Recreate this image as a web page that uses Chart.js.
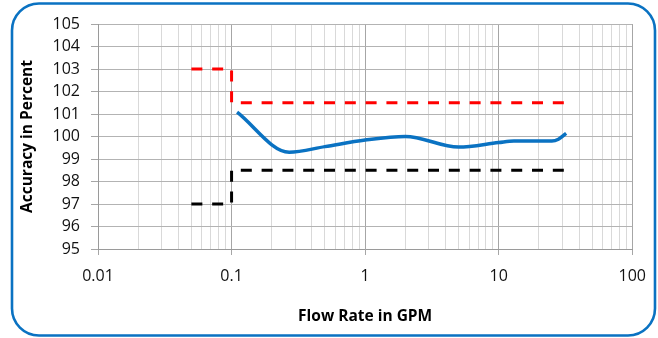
<!DOCTYPE html>
<html>
<head>
<meta charset="utf-8">
<script src="https://cdn.jsdelivr.net/npm/chart.js@4/dist/chart.umd.min.js"></script>
<style>
	html, body { margin: 0; padding: 0; background: #ffffff; }
	#wrap { width: 658px; height: 338px; position: relative; }
</style>
</head>
<body>
<div id="wrap"><canvas id="myChartAccuracy" width="658" height="338"></canvas></div>
<script>
// values
var flowRate = [0.11, 0.27, 0.5, 1, 2, 5, 10, 13, 25, 28, 32];
var accuracy = [101.08, 99.3, 99.55, 99.84, 100.0, 99.53, 99.73, 99.8, 99.8, 99.88, 100.14];

var upperLimitFlow = [0.05, 0.1, 0.1, 35];
var upperLimitValue = [103, 103, 101.5, 101.5];

var lowerLimitFlow = [0.05, 0.1, 0.1, 35];
var lowerLimitValue = [97, 97, 98.5, 98.5];

var xMajorTicks = [0.01, 0.1, 1, 10, 100];
var xMinorSteps = [2, 3, 4, 5, 6, 7, 8, 9];
var yTicks = [95, 96, 97, 98, 99, 100, 101, 102, 103, 104, 105];

function toPoints(xs, ys) {
	return xs.map(function (x, i) {
		return { x: x, y: ys[i] };
	});
}

function isMajorX(v) {
	return xMajorTicks.some(function (m) { return Math.abs(m - v) < m * 1e-6; });
}

function buildXTicks() {
	var ticks = [];
	xMajorTicks.forEach(function (m, i) {
		ticks.push({ value: m });
		if (i < xMajorTicks.length - 1) {
			xMinorSteps.forEach(function (s) {
				ticks.push({ value: +(m * s).toPrecision(6) });
			});
		}
	});
	return ticks;
}

// rounded blue frame around the whole picture
var framePlugin = {
	id: 'frame',
	afterDraw: function (chart) {
		var ctx = chart.ctx;
		ctx.save();
		ctx.strokeStyle = '#0a72c2';
		ctx.lineWidth = 2.6;
		ctx.beginPath();
		ctx.roundRect(12, 3.5, 643, 332, 27);
		ctx.stroke();
		ctx.restore();
	}
};

var fontFamily = "'Open Sans', 'Liberation Sans', sans-serif";

var ctx = document.getElementById('myChartAccuracy').getContext('2d');
new Chart(ctx, {
	type: 'line',
	data: {
		datasets: [{
			label: 'Accuracy',
			data: toPoints(flowRate, accuracy),
			borderColor: '#0a72c2',
			borderWidth: 3.5,
			pointRadius: 0,
			cubicInterpolationMode: 'monotone',
			fill: false,
			order: 1
		}, {
			label: 'Upper limit',
			data: toPoints(upperLimitFlow, upperLimitValue),
			borderColor: '#ff0000',
			borderWidth: 3,
			borderDash: [11, 9.8],
			pointRadius: 0,
			tension: 0,
			fill: false,
			order: 2
		}, {
			label: 'Lower limit',
			data: toPoints(lowerLimitFlow, lowerLimitValue),
			borderColor: '#000000',
			borderWidth: 3,
			borderDash: [11, 9.8],
			pointRadius: 0,
			tension: 0,
			fill: false,
			order: 3
		}]
	},
	options: {
		responsive: false,
		animation: false,
		layout: {
			padding: { left: 0, right: 25, top: 24, bottom: 0 }
		},
		plugins: {
			legend: { display: false },
			tooltip: { enabled: false }
		},
		scales: {
			x: {
				type: 'logarithmic',
				min: 0.01,
				max: 100,
				afterBuildTicks: function (scale) {
					scale.ticks = buildXTicks();
				},
				afterFit: function (scale) {
					scale.height = 338 - 249;
				},
				border: { color: '#9a9a9a', width: 1 },
				grid: {
					color: function (c) {
						return c.tick && isMajorX(c.tick.value) ? '#a6a6a6' : '#d9d9d9';
					},
					tickColor: function (c) {
						return c.tick && isMajorX(c.tick.value) ? '#a6a6a6' : 'rgba(0,0,0,0)';
					},
					drawTicks: true,
					tickLength: 6
				},
				ticks: {
					autoSkip: false,
					maxRotation: 0,
					padding: 12,
					color: '#111111',
					font: { family: fontFamily, size: 16 },
					callback: function (value) {
						return isMajorX(value) ? String(value) : '';
					}
				},
				title: {
					display: true,
					text: 'Flow Rate in GPM',
					color: '#000000',
					font: { family: fontFamily, size: 15.5, weight: 'bold' },
					padding: { top: 0, bottom: 12.5 }
				}
			},
			y: {
				type: 'linear',
				min: 95,
				max: 105,
				afterBuildTicks: function (scale) {
					scale.ticks = yTicks.map(function (v) { return { value: v }; });
				},
				afterFit: function (scale) {
					scale.width = 98;
				},
				border: { color: '#9a9a9a', width: 1 },
				grid: {
					color: '#b3b3b3',
					tickColor: '#a6a6a6',
					drawTicks: true,
					tickLength: 7
				},
				ticks: {
					padding: 11,
					color: '#111111',
					font: { family: fontFamily, size: 16 }
				},
				title: {
					display: true,
					text: 'Accuracy in Percent',
					color: '#000000',
					font: { family: fontFamily, size: 15.5, weight: 'bold' },
					padding: { top: 18.5, bottom: 0 }
				}
			}
		}
	},
	plugins: [framePlugin]
});
</script>
</body>
</html>
